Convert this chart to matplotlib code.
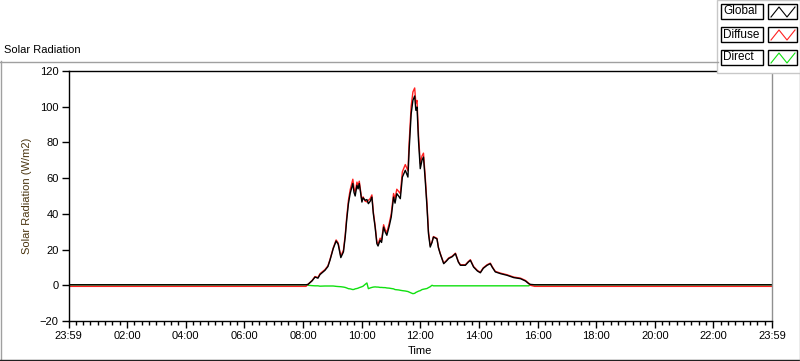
import matplotlib.pyplot as plt
from matplotlib.lines import Line2D
from matplotlib.patches import Rectangle
from matplotlib.ticker import MultipleLocator

# hours since 23:59 of the previous day
time_h = [0.00, 8.10, 8.17, 8.31, 8.41, 8.51, 8.58, 8.75, 8.85, 8.92, 9.03, 9.13, 9.20, 9.29,
          9.38, 9.44, 9.49, 9.55, 9.61, 9.70, 9.74, 9.78, 9.84, 9.88, 9.92, 10.01, 10.05,
          10.12, 10.18, 10.23, 10.29, 10.35, 10.40, 10.46, 10.52, 10.56, 10.63, 10.68, 10.75,
          10.80, 10.86, 10.94, 11.01, 11.09, 11.14, 11.20, 11.26, 11.32, 11.39, 11.49, 11.58,
          11.62, 11.69, 11.75, 11.81, 11.85, 11.89, 11.94, 12.00, 12.06, 12.11, 12.17, 12.23,
          12.28, 12.34, 12.40, 12.45, 12.57, 12.62, 12.68, 12.80, 12.89, 12.97, 13.09, 13.20,
          13.30, 13.37, 13.54, 13.64, 13.71, 13.82, 13.95, 14.05, 14.15, 14.28, 14.39, 14.46,
          14.56, 14.74, 14.96, 15.19, 15.42, 15.59, 15.70, 15.76, 15.90, 24.00]

global_rad = [0.3, 0.3, 0.5, 2.5, 4.6, 4.0, 6.0, 8.4, 10.5, 14.0, 20.5, 24.8, 23.0, 15.5,
              18.7, 27.0, 36.4, 45.7, 51.5, 57.0, 52.0, 50.0, 56.0, 54.0, 57.0, 46.6, 49.0,
              47.6, 48.0, 45.7, 47.0, 49.4, 40.0, 32.6, 23.3, 22.0, 25.2, 24.0, 32.6,
              30.0, 28.0, 33.0, 38.2, 49.4, 46.0, 51.3, 50.0, 48.5, 60.6, 64.4, 60.6,
              75.6, 96.0, 103.6, 106.0, 98.0, 99.8, 81.0, 65.3, 70.0, 71.8, 58.8, 43.8,
              29.0, 21.4, 24.0, 27.0, 26.0, 21.0, 17.7, 12.1, 13.5, 15.0, 16.0, 17.7,
              13.0, 11.2, 11.2, 13.0, 14.0, 10.2, 8.0, 7.0, 9.5, 11.2, 12.1, 10.0,
              7.5, 6.5, 5.6, 4.3, 3.7, 2.4, 0.9, 0.5, 0.3, 0.3]

diffuse_rad = [-0.6, -0.6, 0.5, 2.7, 4.9, 4.3, 6.5, 8.8, 10.9, 14.4, 20.9, 25.4, 23.7, 16.3,
               19.7, 28.2, 37.9, 47.6, 53.5, 59.4, 54.3, 52.0, 57.8, 55.6, 58.3, 47.4, 49.5,
               47.1, 46.7, 47.6, 48.5, 50.6, 41.0, 33.5, 24.3, 23.0, 26.4, 25.2, 33.9,
               31.3, 29.5, 34.6, 40.0, 51.4, 48.4, 53.8, 52.6, 51.3, 63.6, 67.6, 64.1,
               79.4, 100.3, 108.3, 110.5, 102.0, 103.5, 84.3, 68.3, 72.4, 74.0, 60.8, 45.6,
               30.3, 22.2, 24.0, 27.3, 26.3, 21.3, 18.0, 12.4, 13.8, 15.3, 16.3, 18.0,
               13.3, 11.5, 11.5, 13.3, 14.3, 10.5, 8.3, 7.3, 9.8, 11.5, 12.4, 10.3,
               7.8, 6.8, 5.9, 4.6, 4.0, 2.7, 1.2, 0.0, -0.6, -0.6]

direct_rad = [0.3, 0.3, 0.0, -0.2, -0.3, -0.3, -0.5, -0.4, -0.4, -0.4, -0.4, -0.6, -0.7, -0.8,
              -1.0, -1.2, -1.5, -1.9, -2.0, -2.4, -2.3, -2.0, -1.8, -1.6, -1.3, -0.8, -0.5,
              0.5, 1.3, -1.9, -1.5, -1.2, -1.0, -0.9, -1.0, -1.0, -1.2, -1.2, -1.3,
              -1.3, -1.5, -1.6, -1.8, -2.0, -2.4, -2.5, -2.6, -2.8, -3.0, -3.2, -3.5,
              -3.8, -4.3, -4.7, -4.5, -4.0, -3.7, -3.3, -3.0, -2.4, -2.2, -2.0, -1.8,
              -1.3, -0.8, 0.0, -0.3, -0.3, -0.3, -0.3, -0.3, -0.3, -0.3, -0.3, -0.3,
              -0.3, -0.3, -0.3, -0.3, -0.3, -0.3, -0.3, -0.3, -0.3, -0.3, -0.3, -0.3,
              -0.3, -0.3, -0.3, -0.3, -0.3, -0.3, -0.3, 0.3, 0.3, 0.3]

tick_labels = ["23:59", "02:00", "04:00", "06:00", "08:00", "10:00", "12:00",
               "14:00", "16:00", "18:00", "20:00", "22:00", "23:59"]
series_names = ["Global", "Diffuse", "Direct"]
series_colors = ["black", "#ff2020", "#10e010"]

plt.rcParams['font.family'] = ['Liberation Sans', 'DejaVu Sans']
fs = 8.0

fig = plt.figure(figsize=(8, 3.61), dpi=100)
W, H = 800, 361

def fx(px):
    return px / W

def fy(py):
    return 1 - py / H

# outer panel frame
fig.add_artist(Line2D([fx(0.5), fx(0.5)], [fy(61), fy(360)], color="#a0a0a0", lw=1))
fig.add_artist(Line2D([fx(0), fx(718)], [fy(61.5), fy(61.5)], color="#a0a0a0", lw=1))
fig.add_artist(Line2D([fx(0), fx(800)], [fy(359.5), fy(359.5)], color="#202020", lw=1))
fig.add_artist(Line2D([fx(799.5), fx(799.5)], [fy(74), fy(360)], color="#a0a0a0", lw=1))

fig.text(fx(4), fy(50), "Solar Radiation", fontsize=fs, va="center", ha="left")

ax = fig.add_axes([fx(68.5), fy(321), fx(772) - fx(68.5), fy(71) - fy(321)])
ax.plot(time_h, direct_rad, color=series_colors[2], lw=1.0)
ax.plot(time_h, diffuse_rad, color=series_colors[1], lw=1.0)
ax.plot(time_h, global_rad, color=series_colors[0], lw=1.0)

ax.set_xlim(0, 24)
ax.set_ylim(-20, 120)
ax.set_xticks(range(0, 25, 2))
ax.set_xticklabels(tick_labels)
ax.xaxis.set_minor_locator(MultipleLocator(0.25))
ax.set_yticks(range(-20, 121, 20))
ax.tick_params(axis="both", which="major", length=5, width=1, labelsize=fs, pad=2, color="black")
ax.tick_params(axis="x", which="minor", length=3, width=1, color="black")
for s in ["left", "top", "bottom"]:
    ax.spines[s].set_color("black")
    ax.spines[s].set_linewidth(1)
ax.spines["right"].set_color("#909090")
ax.spines["right"].set_linewidth(1)
ax.set_xlabel("Time", fontsize=fs, labelpad=4)
ax.set_ylabel("Solar Radiation (W/m2)", fontsize=fs, color="#4a3510", labelpad=6)

# legend panel, top right
fig.add_artist(Rectangle((fx(717), fy(73)), fx(800) - fx(717), fy(0) - fy(73),
                         facecolor="white", edgecolor="#c8c8c8", lw=1))
row_tops = [4, 27, 50]
for name, col, top in zip(series_names, series_colors, row_tops):
    bot = top + 15
    fig.add_artist(Rectangle((fx(721), fy(bot)), fx(763) - fx(721), fy(top) - fy(bot),
                             facecolor="white", edgecolor="black", lw=1))
    fig.text(fx(723), fy((top + bot) / 2), name, fontsize=8.5, va="center", ha="left")
    fig.add_artist(Rectangle((fx(768), fy(bot)), fx(797) - fx(768), fy(top) - fy(bot),
                             facecolor="white", edgecolor="black", lw=1))
    xs = [771, 779, 787, 795]
    ys = [bot - 2, top + 3, bot - 2, top + 3]
    fig.add_artist(Line2D([fx(v) for v in xs], [fy(v) for v in ys], color=col, lw=0.8))

fig.savefig("out.png", dpi=100)
